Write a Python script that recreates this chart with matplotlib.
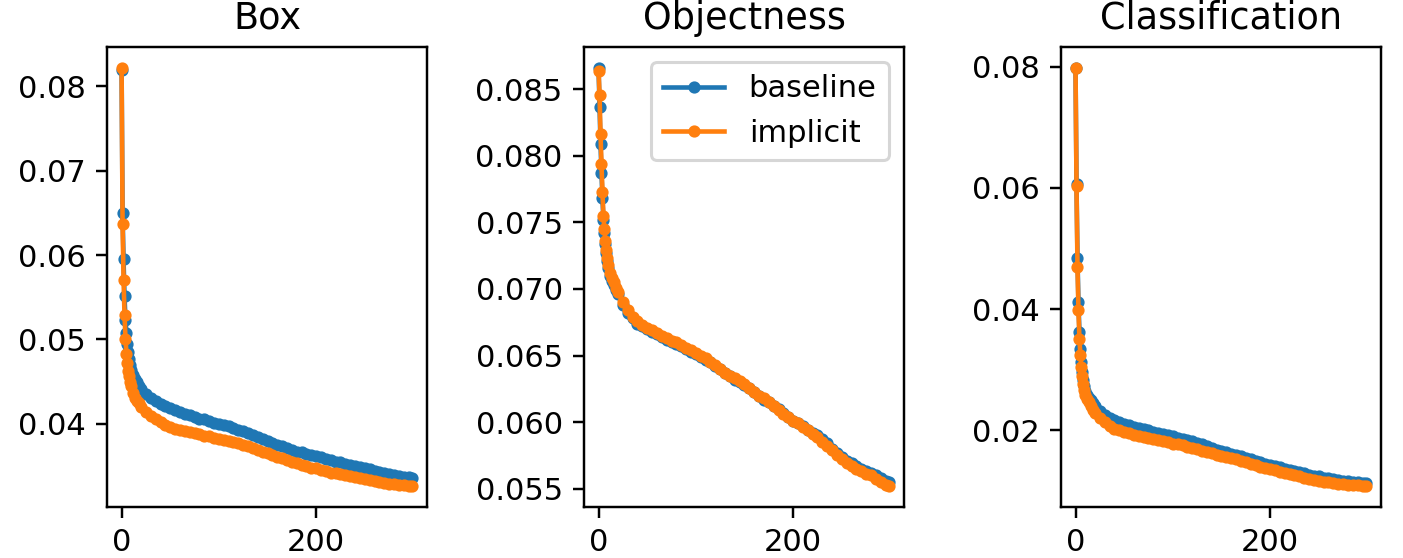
import matplotlib
matplotlib.use("Agg")
import matplotlib.pyplot as plt

epochs = [0, 1, 2, 3, 4, 5, 6, 7, 8, 9, 10, 12, 14, 16, 18, 20,
          25, 30, 35, 40, 45, 50, 55, 60, 65, 70, 75, 80, 85, 90, 95, 100,
          105, 110, 115, 120, 125, 130, 135, 140, 145, 150, 155, 160, 165, 170, 175, 180,
          185, 190, 195, 200, 205, 210, 215, 220, 225, 230, 235, 240, 245, 250, 255, 260,
          265, 270, 275, 280, 285, 290, 295, 299]

box_baseline = [0.0820, 0.0650, 0.0595, 0.0551, 0.0523, 0.0507, 0.0494, 0.0485, 0.0477, 0.0470, 0.0464,
                0.0458, 0.0453, 0.0449, 0.0445, 0.0441,
                0.0435, 0.0430, 0.0427, 0.0423, 0.0421, 0.0419, 0.0416, 0.0414, 0.0412, 0.0410, 0.0408, 0.0406,
                0.0405, 0.0403, 0.0401, 0.0400, 0.0398, 0.0397, 0.0395, 0.0393, 0.0391, 0.0389, 0.0387, 0.0384,
                0.0382, 0.0379, 0.0377, 0.0375, 0.0373, 0.0371, 0.0369, 0.0367, 0.0366, 0.0364, 0.0363, 0.0362,
                0.0360, 0.0358, 0.0357, 0.0355, 0.0354, 0.0352, 0.0351, 0.0350, 0.0349, 0.0348, 0.0346, 0.0344,
                0.0343, 0.0341, 0.0340, 0.0339, 0.0338, 0.0337, 0.0337, 0.0336]
box_implicit = [0.0822, 0.0637, 0.0571, 0.0529, 0.0501, 0.0483, 0.0472, 0.0463, 0.0456, 0.0450, 0.0445,
                0.0437, 0.0431, 0.0427, 0.0424, 0.0420,
                0.0414, 0.0409, 0.0405, 0.0402, 0.0399, 0.0396, 0.0394, 0.0393, 0.0391, 0.0390, 0.0389, 0.0388,
                0.0386, 0.0385, 0.0383, 0.0382, 0.0381, 0.0380, 0.0378, 0.0377, 0.0375, 0.0373, 0.0371, 0.0369,
                0.0367, 0.0365, 0.0363, 0.0361, 0.0359, 0.0357, 0.0355, 0.0353, 0.0351, 0.0350, 0.0348, 0.0347,
                0.0345, 0.0344, 0.0342, 0.0341, 0.0340, 0.0339, 0.0338, 0.0337, 0.0336, 0.0335, 0.0333, 0.0332,
                0.0331, 0.0330, 0.0329, 0.0328, 0.0327, 0.0327, 0.0326, 0.0326]

obj_baseline = [0.0866, 0.0837, 0.0809, 0.0787, 0.0768, 0.0752, 0.0742, 0.0734, 0.0727, 0.0721, 0.0716,
                0.0710, 0.0706, 0.0703, 0.0699, 0.0696,
                0.0688, 0.0682, 0.0678, 0.0674, 0.0672, 0.0670, 0.0668, 0.0666, 0.0664, 0.0662, 0.0660, 0.0659,
                0.0657, 0.0655, 0.0653, 0.0651, 0.0649, 0.0647, 0.0645, 0.0642, 0.0640, 0.0637, 0.0635, 0.0632,
                0.0630, 0.0628, 0.0626, 0.0623, 0.0620, 0.0617, 0.0615, 0.0612, 0.0610, 0.0607, 0.0604, 0.0601,
                0.0599, 0.0597, 0.0594, 0.0592, 0.0590, 0.0587, 0.0584, 0.0580, 0.0577, 0.0574, 0.0571, 0.0569,
                0.0567, 0.0565, 0.0563, 0.0562, 0.0560, 0.0558, 0.0556, 0.0555]
obj_implicit = [0.0864, 0.0846, 0.0816, 0.0794, 0.0773, 0.0755, 0.0745, 0.0736, 0.0729, 0.0723, 0.0718,
                0.0712, 0.0708, 0.0705, 0.0701, 0.0698,
                0.0690, 0.0684, 0.0679, 0.0676, 0.0673, 0.0671, 0.0669, 0.0667, 0.0665, 0.0663, 0.0661, 0.0660,
                0.0658, 0.0656, 0.0654, 0.0652, 0.0650, 0.0648, 0.0645, 0.0643, 0.0640, 0.0637, 0.0635, 0.0633,
                0.0631, 0.0629, 0.0626, 0.0623, 0.0620, 0.0618, 0.0615, 0.0612, 0.0609, 0.0606, 0.0604, 0.0601,
                0.0599, 0.0596, 0.0594, 0.0591, 0.0589, 0.0585, 0.0582, 0.0579, 0.0575, 0.0572, 0.0569, 0.0567,
                0.0565, 0.0563, 0.0561, 0.0560, 0.0557, 0.0555, 0.0553, 0.0552]

cls_baseline = [0.0797, 0.0606, 0.0485, 0.0411, 0.0363, 0.0334, 0.0312, 0.0296, 0.0283, 0.0273, 0.0265,
                0.0258, 0.0254, 0.0250, 0.0245, 0.0240,
                0.0232, 0.0226, 0.0221, 0.0217, 0.0214, 0.0211, 0.0208, 0.0206, 0.0204, 0.0202, 0.0200, 0.0198,
                0.0196, 0.0194, 0.0192, 0.0190, 0.0188, 0.0186, 0.0184, 0.0182, 0.0179, 0.0177, 0.0174, 0.0171,
                0.0168, 0.0166, 0.0164, 0.0161, 0.0159, 0.0157, 0.0154, 0.0152, 0.0150, 0.0147, 0.0145, 0.0143,
                0.0141, 0.0139, 0.0137, 0.0135, 0.0133, 0.0131, 0.0129, 0.0127, 0.0125, 0.0124, 0.0122, 0.0121,
                0.0119, 0.0118, 0.0117, 0.0116, 0.0115, 0.0114, 0.0113, 0.0113]
cls_implicit = [0.0798, 0.0603, 0.0470, 0.0398, 0.0351, 0.0324, 0.0304, 0.0289, 0.0277, 0.0267, 0.0259,
                0.0252, 0.0246, 0.0240, 0.0234, 0.0229,
                0.0220, 0.0213, 0.0207, 0.0203, 0.0200, 0.0197, 0.0195, 0.0193, 0.0191, 0.0189, 0.0188, 0.0186,
                0.0184, 0.0182, 0.0180, 0.0178, 0.0177, 0.0175, 0.0173, 0.0171, 0.0169, 0.0166, 0.0164, 0.0162,
                0.0160, 0.0158, 0.0156, 0.0154, 0.0152, 0.0149, 0.0147, 0.0145, 0.0143, 0.0140, 0.0138, 0.0136,
                0.0134, 0.0132, 0.0130, 0.0128, 0.0126, 0.0124, 0.0122, 0.0120, 0.0118, 0.0117, 0.0115, 0.0114,
                0.0113, 0.0112, 0.0111, 0.0110, 0.0109, 0.0109, 0.0108, 0.0108]

titles = ["Box", "Objectness", "Classification"]
series = [(box_baseline, box_implicit), (obj_baseline, obj_implicit), (cls_baseline, cls_implicit)]
labels = ["baseline", "implicit"]

DPI = 220
fig, axes = plt.subplots(1, 3, figsize=(1403 / DPI, 558 / DPI), dpi=DPI)
fig.subplots_adjust(left=0.0763, right=0.9843, top=0.9158, bottom=0.0914, wspace=0.4906)

for ax, title, (b, i) in zip(axes, titles, series):
    ax.plot(epochs, b, '.-', label=labels[0])
    ax.plot(epochs, i, '.-', label=labels[1])
    ax.set_title(title)

axes[1].legend(loc="upper right")

fig.savefig("out.png", dpi=DPI)
